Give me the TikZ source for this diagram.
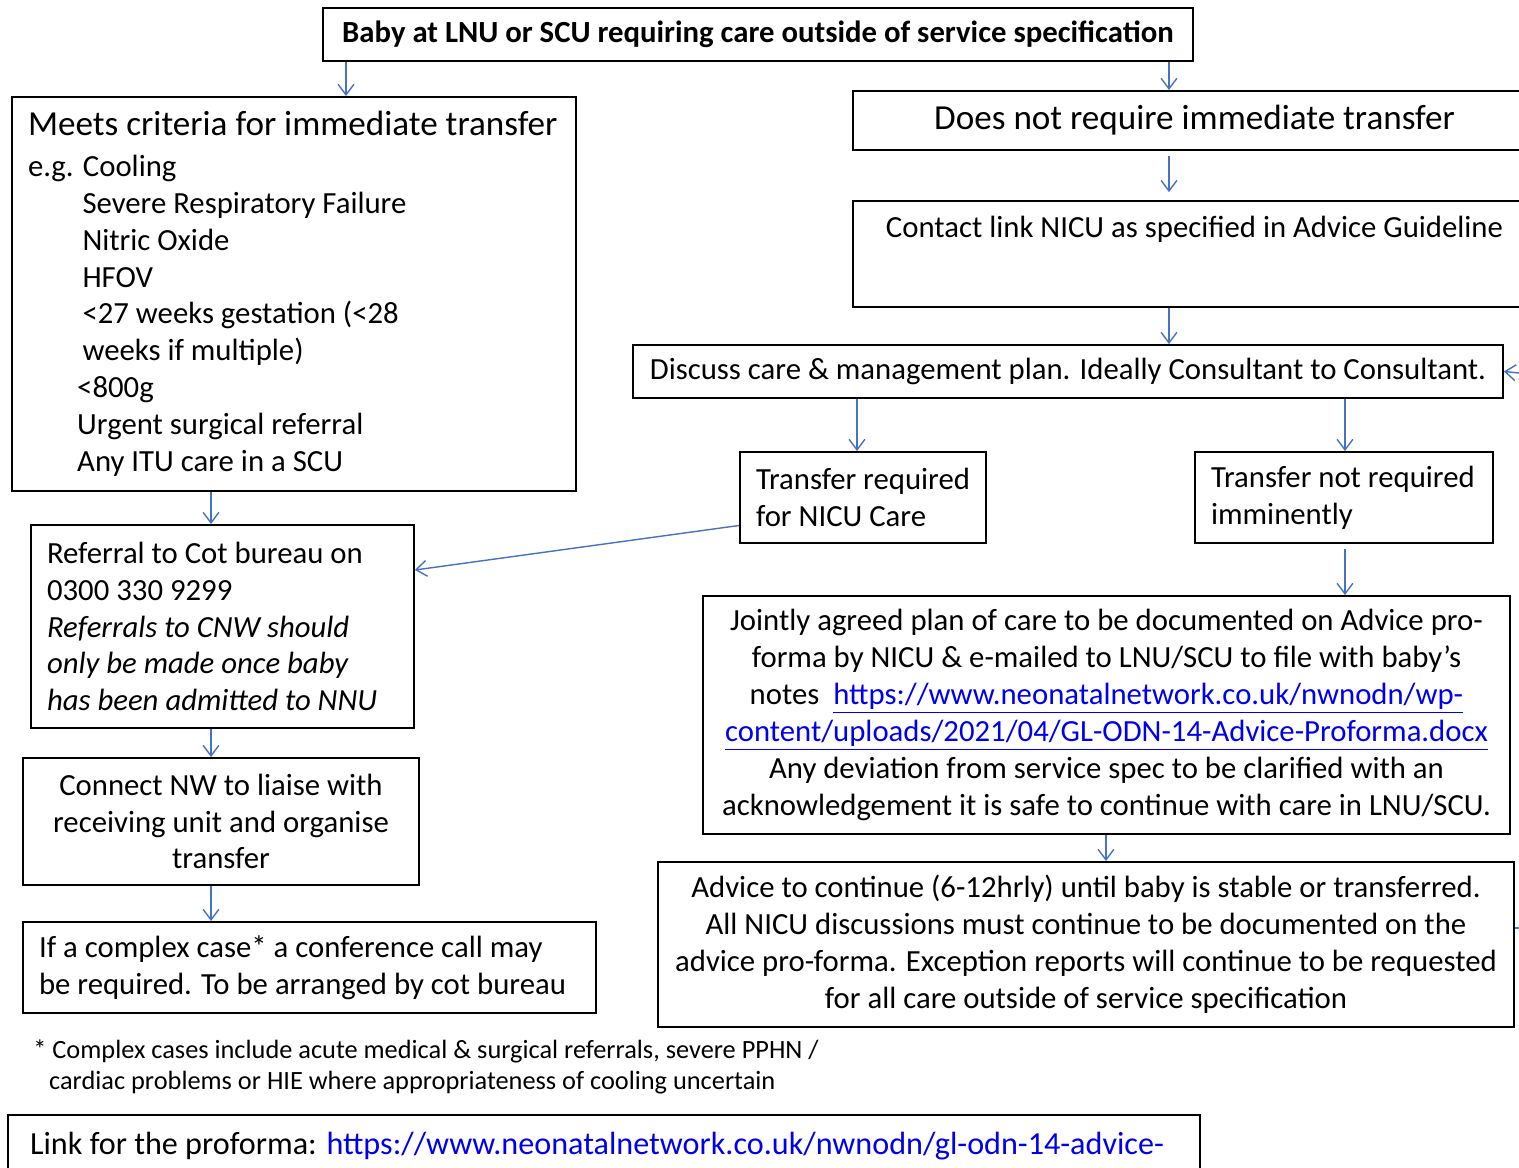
\documentclass[tikz,border=0pt]{standalone}
\usepackage{fontspec}
\setmainfont{Carlito}
\usetikzlibrary{arrows.meta}
\definecolor{arrblue}{RGB}{68,114,196}
\definecolor{linkblue}{RGB}{0,0,240}
\tikzset{
  blk/.style={draw=black,line width=1.1pt,inner sep=0pt,
    font=\fontsize{17.5}{21}\selectfont,align=center},
  blkl/.style={blk,align=flush left},
  arr/.style={-{Straight Barb[length=6pt,width=9pt]},line width=0.8pt,color=arrblue},
  arrline/.style={line width=0.8pt,color=arrblue},
  note/.style={font=\fontsize{15}{18.1}\selectfont,align=left,
    anchor=north west,inner sep=0pt},
}
\newcommand{\weblink}[1]{\textcolor{linkblue}{\underline{#1}}}

\begin{document}
\begin{tikzpicture}[x=0.02cm,y=-0.02cm]
  \useasboundingbox (0,0) rectangle (1519,1168);
  \clip (0,0) rectangle (1519,1168);
  % start box
  \node[blk,minimum width=17.4cm,minimum height=1.06cm,
        font=\bfseries\fontsize{17.5}{21}\selectfont](start) at (758,34.5)
    {Baby at LNU or SCU requiring care outside of service specification};
  % left column
  \node[blkl,minimum width=11.28cm,minimum height=7.88cm,text width=10.64cm](meets) at (294,294)
    {{\fontsize{20}{24}\selectfont Meets criteria for immediate transfer}\\[2pt]
     e.g. Cooling\\
     \hspace*{31pt}Severe Respiratory Failure\\
     \hspace*{31pt}Nitric Oxide\\
     \hspace*{31pt}HFOV\\
     \hspace*{31pt}<27 weeks gestation (<28\\
     \hspace*{31pt}weeks if multiple)\\
     \hspace*{28pt}<800g\\
     \hspace*{28pt}Urgent surgical referral\\
     \hspace*{28pt}Any ITU care in a SCU};
  \node[blkl,minimum width=7.66cm,minimum height=4.06cm,text width=7.02cm](referral) at (222.5,626.5)
    {Referral to Cot bureau on\\
     0300 330 9299\\
     \textit{Referrals to CNW should}\\
     \textit{only be made once baby}\\
     \textit{has been admitted to NNU}};
  \node[blk,minimum width=7.92cm,minimum height=2.54cm](connect) at (221,821.5)
    {Connect NW to liaise with\\ receiving unit and organise\\ transfer};
  \node[blkl,minimum width=11.46cm,minimum height=1.82cm,text width=10.82cm](complex) at (309.5,967.5)
    {If a complex case* a conference call may\\
     be required. To be arranged by cot bureau};
  % right column
  \node[blk,minimum width=13.66cm,minimum height=1.18cm,
        font=\fontsize{20}{24}\selectfont](notimm) at (1194.5,120.5)
    {Does not require immediate transfer};
  \node[blk,minimum width=13.66cm,minimum height=2.12cm,text depth=31pt](contact) at (1194.5,254)
    {Contact link NICU as specified in Advice Guideline};
  \node[blk,minimum width=17.4cm,minimum height=1.06cm](discuss) at (1068,371.5)
    {Discuss care \& management plan. Ideally Consultant to Consultant.};
  \node[blkl,minimum width=4.92cm,minimum height=1.82cm,text width=4.28cm](transreq) at (863,497.5)
    {Transfer required\\ for NICU Care};
  \node[blkl,minimum width=5.96cm,minimum height=1.82cm,text width=5.32cm](transnot) at (1344,497.5)
    {Transfer not required\\ imminently};
  \node[blk,minimum width=16.14cm,minimum height=4.76cm](jointly) at (1106.5,715)
    {Jointly agreed plan of care to be documented on Advice pro-\\
     forma by NICU \& e-mailed to LNU/SCU to file with baby’s\\
     notes \ \weblink{https://www.neonatalnetwork.co.uk/nwnodn/wp-}\\
     \weblink{content/uploads/2021/04/GL-ODN-14-Advice-Proforma.docx}\\
     Any deviation from service spec to be clarified with an\\
     acknowledgement it is safe to continue with care in LNU/SCU.};
  \node[blk,minimum width=17.12cm,minimum height=3.3cm](advice) at (1086,944.5)
    {Advice to continue (6-12hrly) until baby is stable or transferred.\\
     All NICU discussions must continue to be documented on the\\
     advice pro-forma. Exception reports will continue to be requested\\
     for all care outside of service specification};
  % footnote and link
  \node[note](footnote) at (33,1039)
    {* Complex cases include acute medical \& surgical referrals, severe PPHN /\\
     \hspace*{9pt}cardiac problems or HIE where appropriateness of cooling uncertain};
  \node[blkl,minimum width=23.84cm,minimum height=1.24cm,text width=22.96cm,
        font=\fontsize{18.3}{22}\selectfont](proforma) at (604,1146)
    {Link for the proforma: \textcolor{linkblue}{https://www.neonatalnetwork.co.uk/nwnodn/gl-odn-14-advice-}};

  % arrow columns
  \coordinate (c1) at (346,0);
  \coordinate (c2) at (1169,0);
  \coordinate (c3) at (857,0);
  \coordinate (c4) at (1345,0);
  \coordinate (c5) at (1106,0);
  \coordinate (c6) at (211,0);
  \coordinate (rin) at (1519,373);
  \coordinate (rout) at (1519,928);

  % arrows
  \draw[arr](start.south -| c1)--(meets.north -| c1);
  \draw[arr](start.south -| c2)--(notimm.north -| c2);
  \draw[arr,shorten <=2.8pt,shorten >=4.5pt](notimm.south -| c2)--(contact.north -| c2);
  \draw[arr](contact.south -| c2)--(discuss.north -| c2);
  \draw[arr](discuss.south -| c3)--(transreq.north -| c3);
  \draw[arr](discuss.south -| c4)--(transnot.north -| c4);
  \draw[arr,shorten <=3pt](transnot.south -| c4)--(jointly.north -| c4);
  \draw[arr](jointly.south -| c5)--(advice.north -| c5);
  \draw[arr](meets.south -| c6)--(referral.north -| c6);
  \draw[arr](referral.south -| c6)--(connect.north -| c6);
  \draw[arr](connect.south -| c6)--(complex.north -| c6);
  \draw[arr]([yshift=-0.56cm]transreq.west)--([yshift=1.13cm]referral.east);
  \draw[arr](rin)--(discuss.east);
  \draw[arrline](advice.east |- rout)--(rout);
\end{tikzpicture}
\end{document}
